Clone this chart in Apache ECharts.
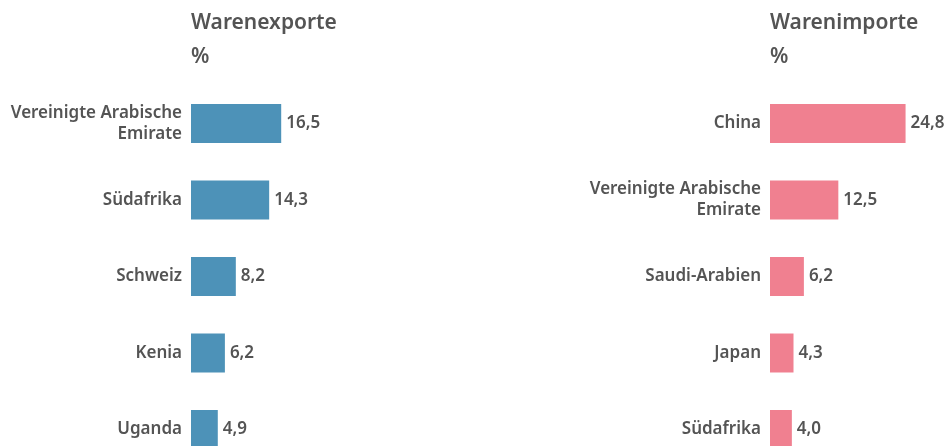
<!DOCTYPE html>
<html>
<head>
<meta charset="utf-8">
<script src="https://cdn.jsdelivr.net/npm/echarts@6/dist/echarts.min.js"></script>
<style>
  html, body { margin: 0; padding: 0; background: #fff; overflow: hidden; }
  #chart { width: 944px; height: 470px; }
</style>
</head>
<body>
<div id="chart"></div>
<script>
'use strict';

// Warenexporte (%)
var exportCountries = ['Vereinigte Arabische\nEmirate', 'Südafrika', 'Schweiz', 'Kenia', 'Uganda'];
var exportValues = [16.5, 14.3, 8.2, 6.2, 4.9];

// Warenimporte (%)
var importCountries = ['China', 'Vereinigte Arabische\nEmirate', 'Saudi-Arabien', 'Japan', 'Südafrika'];
var importValues = [24.8, 12.5, 6.2, 4.3, 4.0];

var textColor = '#545454';
var fontFamily = '"Noto Sans", sans-serif';

function fmt(p) {
    return p.value.toFixed(1).replace('.', ',');
}

var labelStyle = {
    show: true,
    position: 'right',
    distance: 5,
    color: textColor,
    fontSize: 17,
    fontWeight: 600,
    fontFamily: fontFamily,
    formatter: fmt
};

function yAxisFor(idx, cats) {
    return {
        type: 'category',
        gridIndex: idx,
        data: cats,
        inverse: true,
        axisLine: { show: false },
        axisTick: { show: false },
        axisLabel: {
            margin: 9,
            color: textColor,
            fontSize: 17,
            fontWeight: 600,
            fontFamily: fontFamily,
            lineHeight: 21
        }
    };
}

function xAxisFor(idx) {
    return {
        type: 'value',
        gridIndex: idx,
        min: 0,
        max: 30,
        show: false
    };
}

var titleStyle = { color: textColor, fontSize: 21, fontWeight: 600, fontFamily: fontFamily };

var chart = echarts.init(document.getElementById('chart'));
chart.setOption({
    backgroundColor: '#fff',
    animation: false,
    title: [{
        text: 'Warenexporte',
        subtext: '%',
        left: 186,
        top: 8,
        itemGap: 13,
        textStyle: titleStyle,
        subtextStyle: titleStyle
    }, {
        text: 'Warenimporte',
        subtext: '%',
        left: 765,
        top: 8,
        itemGap: 13,
        textStyle: titleStyle,
        subtextStyle: titleStyle
    }],
    grid: [
        { left: 191, top: 85.25, width: 164, height: 382.5 },
        { left: 770, top: 85.25, width: 164, height: 382.5 }
    ],
    xAxis: [xAxisFor(0), xAxisFor(1)],
    yAxis: [yAxisFor(0, exportCountries), yAxisFor(1, importCountries)],
    series: [{
        type: 'bar',
        xAxisIndex: 0,
        yAxisIndex: 0,
        data: exportValues,
        barWidth: 39,
        itemStyle: { color: '#4d92b8' },
        label: labelStyle
    }, {
        type: 'bar',
        xAxisIndex: 1,
        yAxisIndex: 1,
        data: importValues,
        barWidth: 39,
        itemStyle: { color: '#f08090' },
        label: labelStyle
    }]
});
</script>
</body>
</html>
